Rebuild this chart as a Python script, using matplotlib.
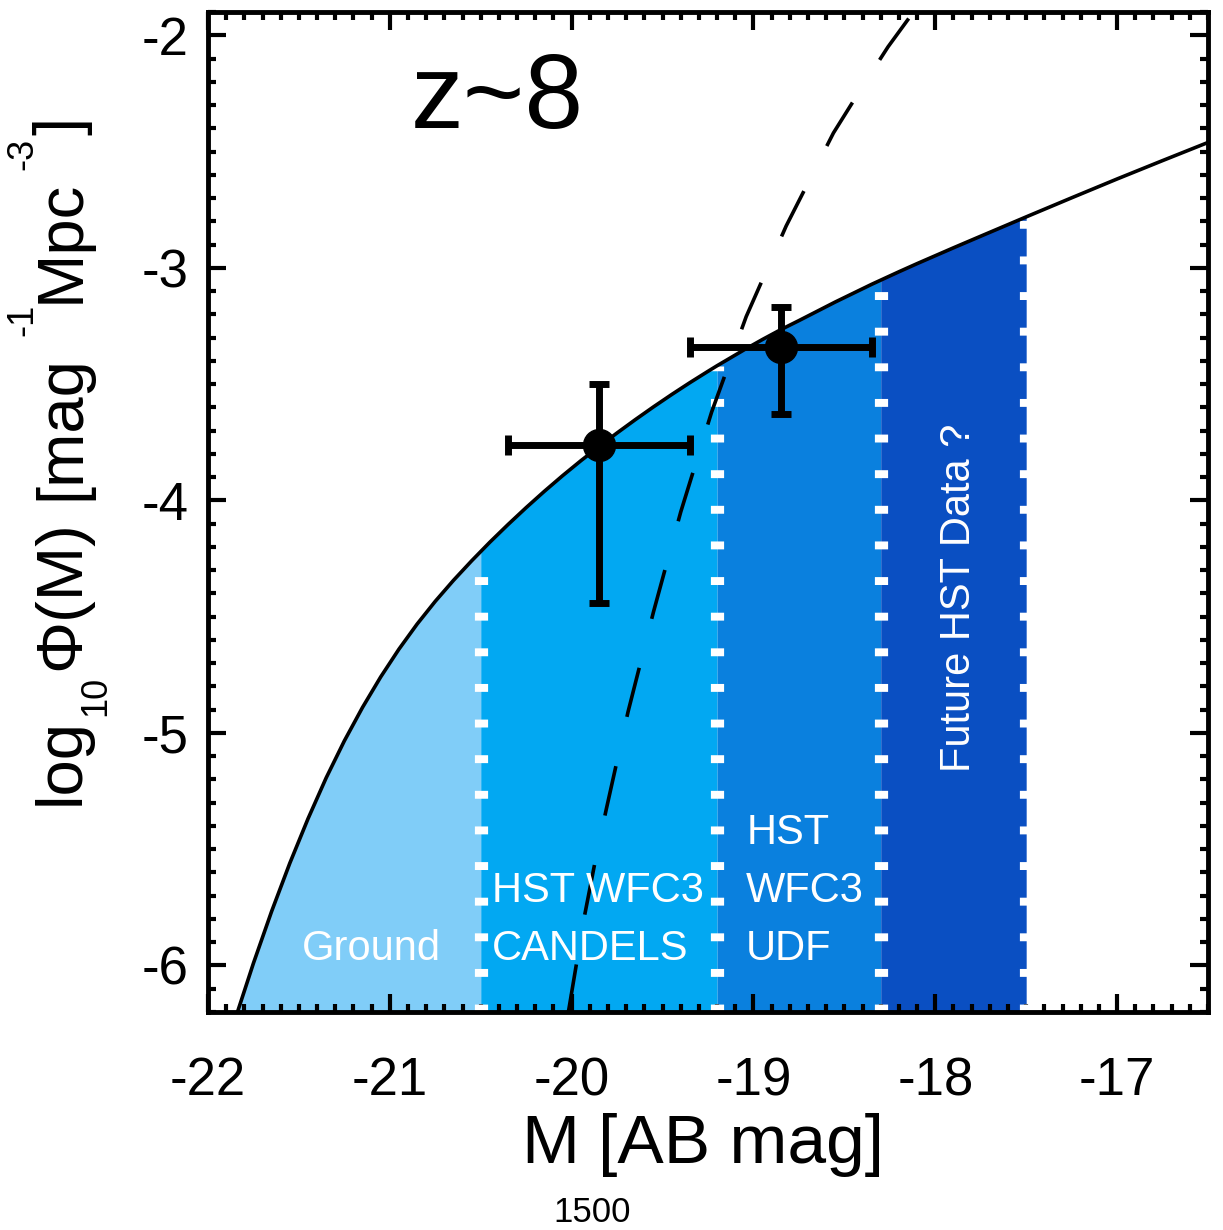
import matplotlib
matplotlib.use('Agg')
import matplotlib.pyplot as plt
import numpy as np
from matplotlib.ticker import MultipleLocator

plt.rcParams['font.family'] = ['Liberation Sans', 'DejaVu Sans']
plt.rcParams['axes.unicode_minus'] = False

# luminosity function curve (solid)
curve_mag = [-21.85, -21.75, -21.65, -21.55, -21.45, -21.35, -21.25, -21.15, -21.05,
             -20.95, -20.85, -20.75, -20.65, -20.55, -20.50, -20.45, -20.35, -20.25,
             -20.15, -20.05, -19.95, -19.85, -19.75, -19.65, -19.55, -19.45, -19.35,
             -19.25, -19.20, -19.15, -19.05, -18.95, -18.85, -18.75, -18.65, -18.55,
             -18.45, -18.35, -18.30, -18.20, -18.10, -18.00, -17.90, -17.75, -17.50,
             -17.25, -17.00, -16.75, -16.50]
curve_logphi = [-6.229, -5.990, -5.767, -5.560, -5.369, -5.193, -5.034, -4.890, -4.759,
                -4.640, -4.532, -4.434, -4.344, -4.260, -4.220, -4.180, -4.104, -4.031,
                -3.961, -3.894, -3.830, -3.769, -3.710, -3.653, -3.598, -3.545, -3.494,
                -3.445, -3.421, -3.398, -3.352, -3.308, -3.266, -3.227, -3.187, -3.147,
                -3.109, -3.071, -3.053, -3.017, -2.982, -2.948, -2.914, -2.864, -2.781,
                -2.699, -2.618, -2.539, -2.461]

# dashed curve
dash_mag = [-20.02, -19.93, -19.87, -19.81, -19.69, -19.55, -19.40, -19.23, -19.04,
            -18.82, -18.56, -18.40, -18.26, -18.12]
dash_logphi = [-6.21, -5.79, -5.55, -5.33, -4.91, -4.48, -4.05, -3.62, -3.21,
               -2.82, -2.42, -2.22, -2.05, -1.90]

# data points with errors
pt_mag = [-19.85, -18.85]
pt_logphi = [-3.76, -3.34]
pt_xerr = [0.5, 0.5]
pt_yerr_lo = [0.68, 0.29]
pt_yerr_hi = [0.26, 0.17]

# survey depth bands
band_edges = [-22.0, -20.5, -19.2, -18.3, -17.5]
band_colors = ['#80CDF8', '#02A8F2', '#0A80DE', '#0A4FC2']

xmin, xmax = -22.0, -16.5
ymin, ymax = -6.2, -1.9

W, H = 1223, 1230
fig = plt.figure(figsize=(W / 100, H / 100), dpi=100)
ax = fig.add_axes([208 / W, 1 - 1012 / H, 1000 / W, 1000 / H])

cm = np.array(curve_mag)
cl = np.array(curve_logphi)

for lo, hi, c in zip(band_edges[:-1], band_edges[1:], band_colors):
    m = (cm >= lo - 1e-9) & (cm <= hi + 1e-9)
    ax.fill_between(cm[m], ymin, cl[m], color=c, lw=0, zorder=1)

for b in band_edges[1:]:
    top = cl[np.isclose(cm, b)][0]
    ax.plot([b, b], [ymin, top], color='white', lw=9.5,
            linestyle=(0, (0.6, 2.1)), dash_capstyle='butt', zorder=2)

ax.plot(dash_mag, dash_logphi, color='black', lw=2.6,
        linestyle=(0, (14, 14)), zorder=3)
ax.plot(cm, cl, color='black', lw=2.6, zorder=4)

ax.errorbar(pt_mag, pt_logphi, xerr=pt_xerr, yerr=[pt_yerr_lo, pt_yerr_hi],
            fmt='o', color='black', ms=23, elinewidth=5, capsize=7,
            capthick=5, zorder=5)

# labels inside the panel
ax.text(-20.41, -2.28, 'z~8', fontsize=76, ha='center', va='center')
ax.text(-21.10, -5.93, 'Ground', color='white', fontsize=30, ha='center', va='center')
ax.text(-20.44, -5.68, 'HST WFC3', color='white', fontsize=30, ha='left', va='center')
ax.text(-20.44, -5.93, 'CANDELS', color='white', fontsize=30, ha='left', va='center')
ax.text(-19.04, -5.43, 'HST', color='white', fontsize=30, ha='left', va='center')
ax.text(-19.04, -5.68, 'WFC3', color='white', fontsize=30, ha='left', va='center')
ax.text(-19.04, -5.93, 'UDF', color='white', fontsize=30, ha='left', va='center')
ax.text(-17.87, -4.42, 'Future HST Data ?', color='white', fontsize=30,
        rotation=90, ha='center', va='center')

ax.set_xlim(xmin, xmax)
ax.set_ylim(ymin, ymax)
ax.set_xticks([-22, -21, -20, -19, -18, -17])
ax.set_yticks([-6, -5, -4, -3, -2])
ax.xaxis.set_minor_locator(MultipleLocator(0.1))
ax.yaxis.set_minor_locator(MultipleLocator(0.1))
ax.tick_params(which='both', direction='in', top=True, right=True, width=3)
ax.tick_params(which='major', length=13, labelsize=38)
ax.tick_params(axis='x', which='major', pad=32)
ax.tick_params(axis='y', which='major', pad=14)
ax.tick_params(which='minor', length=6)
for s in ax.spines.values():
    s.set_linewidth(3.5)

def fx(px):
    return px / W

def fy(py):
    return 1 - py / H

# x axis label, IDL style with a low subscript
fig.text(fx(521), fy(1163), 'M', fontsize=50, ha='left', va='baseline')
fig.text(fx(553), fy(1222), '1500', fontsize=25, ha='left', va='baseline')
fig.text(fx(598), fy(1163), '[AB mag]', fontsize=50, ha='left', va='baseline')

# y axis label pieces (rotated)
fig.text(fx(62), fy(805), 'log', fontsize=47, rotation=90, ha='center', va='bottom')
fig.text(fx(96), fy(716), '10', fontsize=26, rotation=90, ha='center', va='bottom')
fig.text(fx(62), fy(670), 'Φ(M)', fontsize=47, rotation=90, ha='center', va='bottom')
fig.text(fx(62), fy(500), '[mag', fontsize=47, rotation=90, ha='center', va='bottom')
fig.text(fx(23), fy(336), '-1', fontsize=26, rotation=90, ha='center', va='bottom')
fig.text(fx(62), fy(303), 'Mpc', fontsize=47, rotation=90, ha='center', va='bottom')
fig.text(fx(23), fy(170), '-3', fontsize=26, rotation=90, ha='center', va='bottom')
fig.text(fx(62), fy(135), ']', fontsize=47, rotation=90, ha='center', va='bottom')

fig.savefig('out.png', dpi=100)
